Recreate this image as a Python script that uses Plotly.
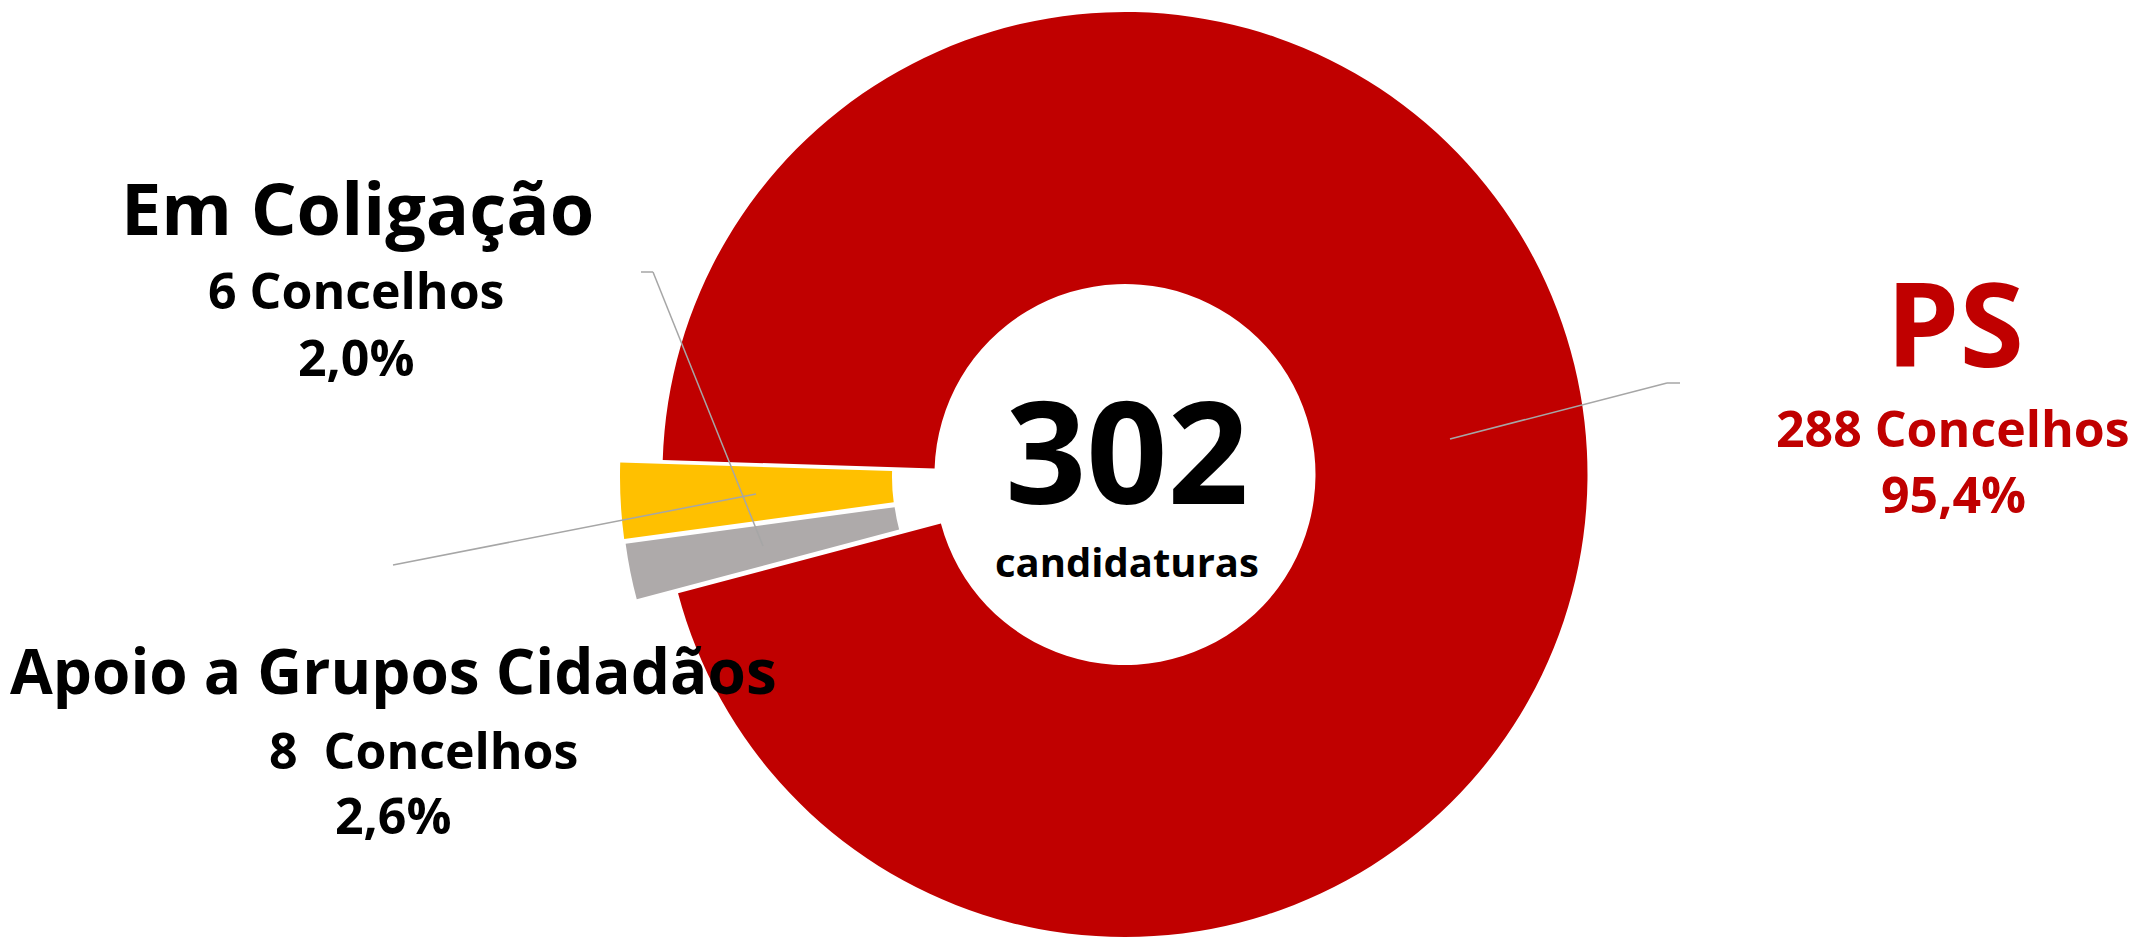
import plotly.graph_objects as go

W, H = 2139, 937

# ---- data ----
labels = ["PS", "Em Coligação", "Apoio a Grupos Cidadãos"]
concelhos = [288, 6, 8]
count_texts = ["288 Concelhos", "6 Concelhos", "8\u00a0 Concelhos"]
colors = ["#C00000", "#AEAAAA", "#FFC000"]
total = sum(concelhos)
pct_texts = [f"{v / total * 100:.1f}".replace(".", ",") + "%" for v in concelhos]
center_caption = "candidaturas"

FONT = "Open Sans"
ROT = 271.8


def px_x(x):
    return x / W


def px_y(y):
    return 1 - y / H


def pie_trace(show_idx, cx, cy, r, hole):
    cols = [colors[i] if i in show_idx else "rgba(0,0,0,0)" for i in range(len(labels))]
    return go.Pie(
        labels=labels,
        values=concelhos,
        sort=False,
        direction="clockwise",
        rotation=ROT,
        hole=hole,
        marker=dict(colors=cols, line=dict(width=0)),
        textinfo="none",
        hoverinfo="label+value+percent",
        showlegend=False,
        domain=dict(x=[(cx - r) / W, (cx + r) / W],
                    y=[max(0, (H - cy - r) / H), min(1, (H - cy + r) / H)]),
    )


fig = go.Figure()
# main ring (PS)
fig.add_trace(pie_trace([0], 1125, 474.5, 462.5, 190.5 / 462.5))
# exploded small slices
fig.add_trace(pie_trace([1], 1076, 482.5, 454.5, 183 / 454.5))
fig.add_trace(pie_trace([2], 1080, 477, 460, 188 / 460))

LINE = dict(color="#A6A6A6", width=1.5)


def seg(x0, y0, x1, y1):
    fig.add_shape(type="line", xref="paper", yref="paper",
                  x0=px_x(x0), y0=px_y(y0), x1=px_x(x1), y1=px_y(y1), line=LINE)


# leader lines
seg(641, 272, 653, 272)
seg(653, 272, 763, 546)
seg(393, 565, 756, 494)
seg(1450, 439, 1667, 383)
seg(1667, 383, 1680, 383)


def label(text, x, y, size, color="#000000"):
    fig.add_annotation(text=f"<b>{text}</b>", x=px_x(x), y=px_y(y), xref="paper", yref="paper",
                       xanchor="center", yanchor="middle", showarrow=False,
                       font=dict(family=FONT, size=size, color=color))


# PS
label(labels[0], 1955, 321, 117, colors[0])
label(count_texts[0], 1953, 428, 50, colors[0])
label(pct_texts[0], 1953, 494, 50, colors[0])
# Em Coligação
label(labels[1], 357, 207, 72)
label(count_texts[1], 356, 290, 50)
label(pct_texts[1], 356, 357, 50)
# Apoio a Grupos Cidadãos
label(labels[2], 393, 670, 62)
label(count_texts[2], 423, 750, 50)
label(pct_texts[2], 393, 815, 50)
# center (one annotation, two lines)
label(f"<span style='font-size:142px'>{total}</span><br>"
      f"<span style='font-size:40px'>{center_caption}</span>", 1127, 470, 56)

fig.update_layout(width=W, height=H, margin=dict(l=0, r=0, t=0, b=0),
                  paper_bgcolor="white", plot_bgcolor="white",
                  font=dict(family=FONT))

fig.write_html("out.html", config={"displayModeBar": False},
               post_script="document.body.style.margin='0';document.body.style.overflow='hidden';")
